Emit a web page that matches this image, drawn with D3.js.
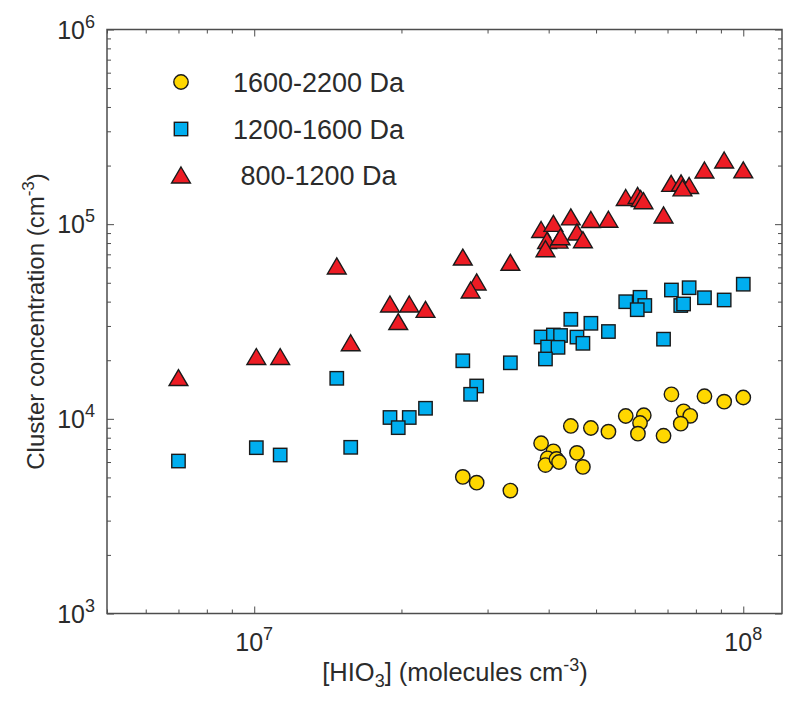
<!DOCTYPE html>
<html>
<head>
<meta charset="utf-8">
<script src="https://cdn.jsdelivr.net/npm/d3@7"></script>
<style>
  html, body { margin: 0; padding: 0; background: #fff; }
  svg { display: block; }
  text { font-family: "Liberation Sans", Arial, Helvetica, sans-serif; fill: #2b2b2b; }
</style>
</head>
<body>
<div id="chart"></div>
<script>
// ---- Data ----
const seriesLabels = ["1600-2200 Da", "1200-1600 Da", " 800-1200 Da"];

const circleHIO3 = [2.67e7, 2.85e7, 3.34e7, 3.86e7, 4.09e7, 3.98e7, 3.94e7, 4.15e7, 4.20e7, 4.57e7, 4.70e7, 4.44e7, 4.88e7, 5.30e7, 5.75e7, 6.26e7, 6.15e7, 6.09e7, 6.87e7, 7.13e7, 7.55e7, 7.79e7, 7.45e7, 8.33e7, 9.14e7, 1.0e8];
const circleConc = [5.03e3, 4.70e3, 4.28e3, 7.49e3, 6.81e3, 6.27e3, 5.79e3, 6.22e3, 6.00e3, 6.68e3, 5.66e3, 9.19e3, 8.97e3, 8.59e3, 1.034e4, 1.043e4, 9.52e3, 8.39e3, 8.19e3, 1.337e4, 1.093e4, 1.036e4, 9.44e3, 1.306e4, 1.225e4, 1.287e4];

const squareHIO3 = [7.0e6, 1.01e7, 1.13e7, 1.475e7, 1.575e7, 1.895e7, 2.075e7, 2.24e7, 1.97e7, 2.67e7, 3.34e7, 2.85e7, 2.77e7, 3.86e7, 4.09e7, 4.23e7, 3.98e7, 4.18e7, 3.94e7, 4.44e7, 4.88e7, 4.57e7, 4.70e7, 5.30e7, 5.75e7, 6.15e7, 6.29e7, 6.07e7, 6.87e7, 7.13e7, 7.75e7, 7.45e7, 7.55e7, 8.33e7, 9.14e7, 1.0e8];
const squareConc = [6.07e3, 7.11e3, 6.52e3, 1.615e4, 7.14e3, 1.016e4, 1.016e4, 1.133e4, 9.01e3, 1.987e4, 1.94e4, 1.475e4, 1.337e4, 2.633e4, 2.696e4, 2.68e4, 2.339e4, 2.33e4, 2.03e4, 3.245e4, 3.096e4, 2.63e4, 2.443e4, 2.809e4, 3.996e4, 4.21e4, 3.821e4, 3.636e4, 2.566e4, 4.59e4, 4.716e4, 3.82e4, 3.89e4, 4.19e4, 4.079e4, 4.915e4];

const triangleHIO3 = [7.0e6, 1.01e7, 1.13e7, 1.475e7, 1.575e7, 1.895e7, 2.075e7, 2.24e7, 1.97e7, 2.67e7, 3.34e7, 2.85e7, 2.77e7, 3.86e7, 4.09e7, 4.44e7, 4.88e7, 5.30e7, 4.57e7, 4.70e7, 3.97e7, 4.19e7, 4.23e7, 3.94e7, 5.75e7, 6.08e7, 6.17e7, 6.25e7, 6.87e7, 7.12e7, 7.46e7, 7.75e7, 7.51e7, 8.33e7, 9.14e7, 1.0e8];
const triangleConc = [1.63e4, 2.09e4, 2.09e4, 6.10e4, 2.46e4, 3.89e4, 3.89e4, 3.65e4, 3.16e4, 6.78e4, 6.37e4, 5.05e4, 4.59e4, 9.39e4, 1.01e5, 1.09e5, 1.057e5, 1.06e5, 9.12e4, 8.32e4, 8.25e4, 8.28e4, 8.62e4, 7.48e4, 1.371e5, 1.404e5, 1.355e5, 1.32e5, 1.115e5, 1.621e5, 1.63e5, 1.58e5, 1.537e5, 1.898e5, 2.136e5, 1.90e5];

const xDomain = [5e6, 1.2e8];
const yDomain = [1e3, 1e6];
const xMajorExp = [7, 8];
const yMajorExp = [3, 4, 5, 6];

// ---- Layout ----
const W = 800, H = 708;
const L = 107, R = 782, T = 29.5, B = 613.5;
const axisColor = "#4d4d4d";
const colors = { circle: "#FFD700", square: "#00AEEF", triangle: "#ED1C24" };

const svg = d3.select("#chart").append("svg").attr("width", W).attr("height", H);

const x = d3.scaleLog().domain(xDomain).range([L, R]);
const y = d3.scaleLog().domain(yDomain).range([B, T]);

function minorTicks(domain) {
  const out = [];
  const lo = Math.floor(Math.log10(domain[0])), hi = Math.ceil(Math.log10(domain[1]));
  for (let e = lo; e <= hi; e++) for (let m = 1; m <= 9; m++) {
    const v = m * Math.pow(10, e);
    if (v >= domain[0] && v <= domain[1]) out.push(v);
  }
  return out;
}
const xMajor = xMajorExp.map(e => Math.pow(10, e));
const yMajor = yMajorExp.map(e => Math.pow(10, e));
const xMinor = minorTicks(xDomain).filter(v => !xMajor.includes(v));
const yMinor = minorTicks(yDomain).filter(v => !yMajor.includes(v));

const MAJ = 7, MIN = 4;
function drawAxis(gen, transform, vals, size) {
  const g = svg.append("g").attr("transform", transform)
    .call(gen.tickValues(vals).tickSize(size).tickFormat(""));
  g.select(".domain").remove();
  g.selectAll("line").attr("stroke", axisColor).attr("stroke-width", 1);
}
// inward ticks on all four sides
drawAxis(d3.axisBottom(x), `translate(0,${B})`, xMajor, -MAJ);
drawAxis(d3.axisBottom(x), `translate(0,${B})`, xMinor, -MIN);
drawAxis(d3.axisTop(x), `translate(0,${T})`, xMajor, -MAJ);
drawAxis(d3.axisTop(x), `translate(0,${T})`, xMinor, -MIN);
drawAxis(d3.axisLeft(y), `translate(${L},0)`, yMajor, -MAJ);
drawAxis(d3.axisLeft(y), `translate(${L},0)`, yMinor, -MIN);
drawAxis(d3.axisRight(y), `translate(${R},0)`, yMajor, -MAJ);
drawAxis(d3.axisRight(y), `translate(${R},0)`, yMinor, -MIN);

// frame
svg.append("rect").attr("x", L).attr("y", T).attr("width", R - L).attr("height", B - T)
  .attr("fill", "none").attr("stroke", axisColor).attr("stroke-width", 1.5);

// tick labels
const TF = 25, SF = 18;
xMajorExp.forEach(e => {
  const t = svg.append("text").attr("x", x(Math.pow(10, e))).attr("y", 651)
    .attr("text-anchor", "middle").style("font-size", TF + "px");
  t.append("tspan").text("10");
  t.append("tspan").attr("dy", -11).style("font-size", SF + "px").text(e);
});
yMajorExp.forEach(e => {
  const t = svg.append("text").attr("x", 95).attr("y", y(Math.pow(10, e)) + 9)
    .attr("text-anchor", "end").style("font-size", TF + "px");
  t.append("tspan").text("10");
  t.append("tspan").attr("dy", -11).style("font-size", SF + "px").text(e);
});

// axis labels
{
  const t = svg.append("text").attr("x", 455).attr("y", 681)
    .attr("text-anchor", "middle").style("font-size", "25.5px");
  t.append("tspan").text("[HIO");
  t.append("tspan").attr("dy", 6).style("font-size", SF + "px").text("3");
  t.append("tspan").attr("dy", -6).text("] (molecules cm");
  t.append("tspan").attr("dy", -10).style("font-size", SF + "px").text("-3");
  t.append("tspan").attr("dy", 10).text(")");
}
{
  const t = svg.append("text").attr("transform", `translate(44,${(T + B) / 2}) rotate(-90)`)
    .attr("text-anchor", "middle").style("font-size", "24px");
  t.append("tspan").text("Cluster concentration (cm");
  t.append("tspan").attr("dy", -10).style("font-size", "17px").text("-3");
  t.append("tspan").attr("dy", 10).text(")");
}

// markers
const stroke = "#1a1a1a", sw = 1.4;
function circleMark(g) { g.append("circle").attr("r", 7.2).attr("fill", colors.circle).attr("stroke", stroke).attr("stroke-width", sw); }
function squareMark(g) { g.append("rect").attr("x", -6.7).attr("y", -6.7).attr("width", 13.4).attr("height", 13.4).attr("fill", colors.square).attr("stroke", stroke).attr("stroke-width", sw); }
function triangleMark(g) { g.append("path").attr("d", "M0,-8 L9.4,8 L-9.4,8 Z").attr("fill", colors.triangle).attr("stroke", stroke).attr("stroke-width", sw).attr("stroke-linejoin", "miter"); }

function plotSeries(xs, ys, mark, cls) {
  const data = xs.map((v, i) => ({ x: v, y: ys[i] }));
  svg.append("g").attr("class", cls).selectAll("g").data(data).join("g")
    .attr("transform", d => `translate(${x(d.x)},${y(d.y)})`)
    .each(function () { mark(d3.select(this)); });
}
plotSeries(circleHIO3, circleConc, circleMark, "circles");
plotSeries(squareHIO3, squareConc, squareMark, "squares");
plotSeries(triangleHIO3, triangleConc, triangleMark, "triangles");

// legend
const legendMarks = [circleMark, squareMark, triangleMark];
const legendY = [82, 129, 175];
seriesLabels.forEach((lab, i) => {
  const g = svg.append("g").attr("transform", `translate(181,${legendY[i]})`);
  legendMarks[i](g);
  svg.append("text").attr("x", 233).attr("y", legendY[i] + 9.5)
    .attr("xml:space", "preserve").style("white-space", "pre")
    .style("font-size", "27px").text(lab);
});
</script>
</body>
</html>
